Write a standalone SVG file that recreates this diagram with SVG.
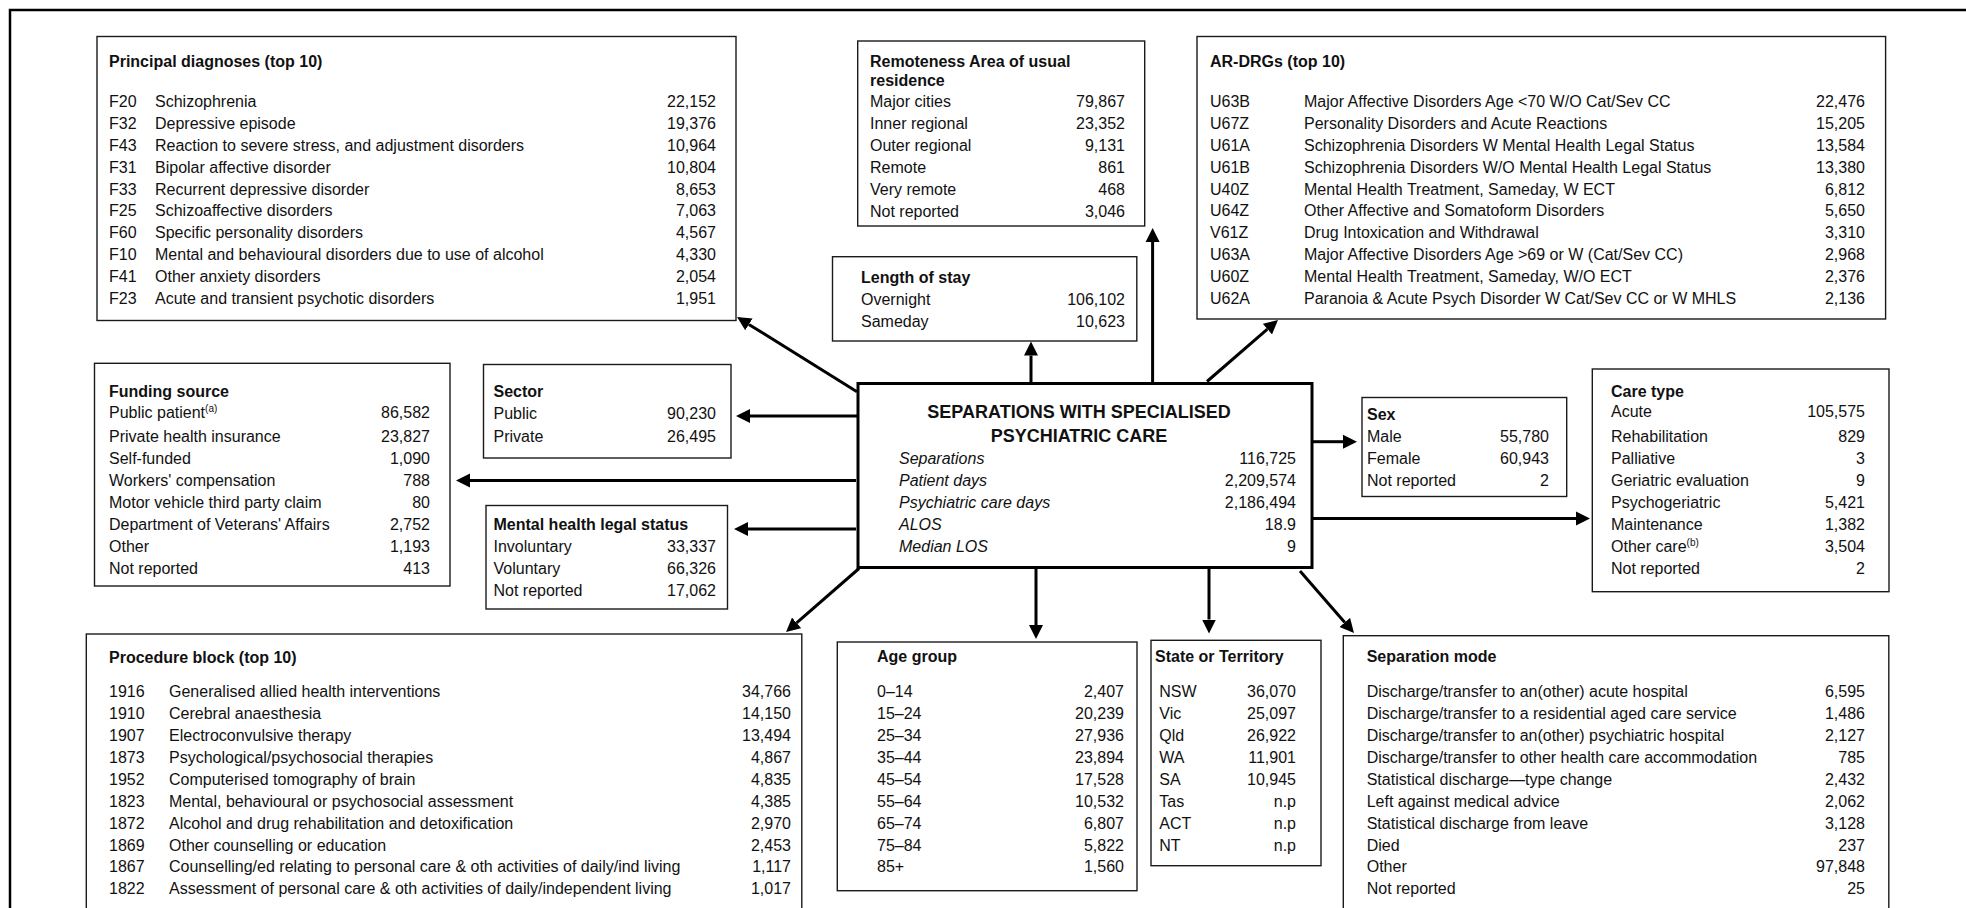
<svg xmlns="http://www.w3.org/2000/svg" width="1966" height="908" viewBox="0 0 1966 908">
<style>
.box{fill:#fff;stroke:#1a1a1a;stroke-width:1.4}
.main{fill:#fff;stroke:#000;stroke-width:3}
text{font-family:"Liberation Sans",Arial,sans-serif;font-size:16px;fill:#111}
.b{font-weight:bold}
.r{text-anchor:end}
.i{font-style:italic}
.c{text-anchor:middle}
.h{font-size:18px;font-weight:bold}
.sup{font-size:10px}
.conn line{stroke:#000;stroke-width:3;marker-end:url(#ah)}
</style>
<defs>
<marker id="ah" markerUnits="userSpaceOnUse" markerWidth="15" markerHeight="15" refX="0" refY="7" orient="auto" viewBox="0 0 15 14">
<path d="M0,0 L14,7 L0,14 z" fill="#000"/>
</marker>
</defs>
<rect width="1966" height="908" fill="#fff"/>
<path d="M10,908 V10 H1966" fill="none" stroke="#000" stroke-width="2.5"/>

<g id="connectors" class="conn">
<line x1="857" y1="391.7" x2="748.9" y2="324.4"/>
<line x1="857" y1="416" x2="750" y2="416"/>
<line x1="856" y1="480.5" x2="470" y2="480.5"/>
<line x1="856" y1="529" x2="748" y2="529"/>
<line x1="1031" y1="383" x2="1031" y2="355.5"/>
<line x1="1152.6" y1="383" x2="1152.6" y2="242"/>
<line x1="1207" y1="381.5" x2="1267.4" y2="329.1"/>
<line x1="1312" y1="441.7" x2="1343" y2="441.7"/>
<line x1="1312" y1="518.5" x2="1576" y2="518.5"/>
<line x1="859" y1="568.5" x2="796.6" y2="622.9"/>
<line x1="1036" y1="568" x2="1036" y2="625"/>
<line x1="1209" y1="568" x2="1209" y2="619.5"/>
<line x1="1300" y1="571" x2="1344.8" y2="622.4"/>
</g>

<g id="principal-diagnoses">
<rect class="box" x="97" y="36.5" width="639" height="284"/>
<text class="b" x="109" y="67">Principal diagnoses (top 10)</text>
<text x="109" y="107.2">F20</text><text x="155" y="107.2">Schizophrenia</text><text class="r" x="716" y="107.2">22,152</text>
<text x="109" y="129">F32</text><text x="155" y="129">Depressive episode</text><text class="r" x="716" y="129">19,376</text>
<text x="109" y="150.9">F43</text><text x="155" y="150.9">Reaction to severe stress, and adjustment disorders</text><text class="r" x="716" y="150.9">10,964</text>
<text x="109" y="172.8">F31</text><text x="155" y="172.8">Bipolar affective disorder</text><text class="r" x="716" y="172.8">10,804</text>
<text x="109" y="194.6">F33</text><text x="155" y="194.6">Recurrent depressive disorder</text><text class="r" x="716" y="194.6">8,653</text>
<text x="109" y="216.4">F25</text><text x="155" y="216.4">Schizoaffective disorders</text><text class="r" x="716" y="216.4">7,063</text>
<text x="109" y="238.3">F60</text><text x="155" y="238.3">Specific personality disorders</text><text class="r" x="716" y="238.3">4,567</text>
<text x="109" y="260.2">F10</text><text x="155" y="260.2">Mental and behavioural disorders due to use of alcohol</text><text class="r" x="716" y="260.2">4,330</text>
<text x="109" y="282">F41</text><text x="155" y="282">Other anxiety disorders</text><text class="r" x="716" y="282">2,054</text>
<text x="109" y="303.8">F23</text><text x="155" y="303.8">Acute and transient psychotic disorders</text><text class="r" x="716" y="303.8">1,951</text>
</g>

<g id="remoteness">
<rect class="box" x="857.7" y="41" width="287" height="185"/>
<text class="b" x="870" y="66.5">Remoteness Area of usual</text>
<text class="b" x="870" y="85.5">residence</text>
<text x="870" y="107">Major cities</text><text class="r" x="1125" y="107">79,867</text>
<text x="870" y="129">Inner regional</text><text class="r" x="1125" y="129">23,352</text>
<text x="870" y="151">Outer regional</text><text class="r" x="1125" y="151">9,131</text>
<text x="870" y="173">Remote</text><text class="r" x="1125" y="173">861</text>
<text x="870" y="195">Very remote</text><text class="r" x="1125" y="195">468</text>
<text x="870" y="217">Not reported</text><text class="r" x="1125" y="217">3,046</text>
</g>

<g id="length-of-stay">
<rect class="box" x="832.5" y="256.7" width="304.3" height="84.3"/>
<text class="b" x="861" y="283">Length of stay</text>
<text x="861" y="304.5">Overnight</text><text class="r" x="1125" y="304.5">106,102</text>
<text x="861" y="326.5">Sameday</text><text class="r" x="1125" y="326.5">10,623</text>
</g>

<g id="ar-drgs">
<rect class="box" x="1197" y="36.5" width="688.6" height="282.5"/>
<text class="b" x="1210" y="67">AR-DRGs (top 10)</text>
<text x="1210" y="107.2">U63B</text><text x="1304" y="107.2">Major Affective Disorders Age &lt;70 W/O Cat/Sev CC</text><text class="r" x="1865" y="107.2">22,476</text>
<text x="1210" y="129">U67Z</text><text x="1304" y="129">Personality Disorders and Acute Reactions</text><text class="r" x="1865" y="129">15,205</text>
<text x="1210" y="150.9">U61A</text><text x="1304" y="150.9">Schizophrenia Disorders W Mental Health Legal Status</text><text class="r" x="1865" y="150.9">13,584</text>
<text x="1210" y="172.8">U61B</text><text x="1304" y="172.8">Schizophrenia Disorders W/O Mental Health Legal Status</text><text class="r" x="1865" y="172.8">13,380</text>
<text x="1210" y="194.6">U40Z</text><text x="1304" y="194.6">Mental Health Treatment, Sameday, W ECT</text><text class="r" x="1865" y="194.6">6,812</text>
<text x="1210" y="216.4">U64Z</text><text x="1304" y="216.4">Other Affective and Somatoform Disorders</text><text class="r" x="1865" y="216.4">5,650</text>
<text x="1210" y="238.3">V61Z</text><text x="1304" y="238.3">Drug Intoxication and Withdrawal</text><text class="r" x="1865" y="238.3">3,310</text>
<text x="1210" y="260.2">U63A</text><text x="1304" y="260.2">Major Affective Disorders Age &gt;69 or W (Cat/Sev CC)</text><text class="r" x="1865" y="260.2">2,968</text>
<text x="1210" y="282">U60Z</text><text x="1304" y="282">Mental Health Treatment, Sameday, W/O ECT</text><text class="r" x="1865" y="282">2,376</text>
<text x="1210" y="303.8">U62A</text><text x="1304" y="303.8">Paranoia &amp; Acute Psych Disorder W Cat/Sev CC or W MHLS</text><text class="r" x="1865" y="303.8">2,136</text>
</g>

<g id="funding-source">
<rect class="box" x="94.5" y="363.3" width="355.5" height="222.7"/>
<text class="b" x="109" y="396.5">Funding source</text>
<text x="109" y="418">Public patient<tspan class="sup" dy="-6">(a)</tspan></text><text class="r" x="430" y="418">86,582</text>
<text x="109" y="442">Private health insurance</text><text class="r" x="430" y="442">23,827</text>
<text x="109" y="464">Self-funded</text><text class="r" x="430" y="464">1,090</text>
<text x="109" y="486">Workers' compensation</text><text class="r" x="430" y="486">788</text>
<text x="109" y="508">Motor vehicle third party claim</text><text class="r" x="430" y="508">80</text>
<text x="109" y="530">Department of Veterans' Affairs</text><text class="r" x="430" y="530">2,752</text>
<text x="109" y="552">Other</text><text class="r" x="430" y="552">1,193</text>
<text x="109" y="574">Not reported</text><text class="r" x="430" y="574">413</text>
</g>

<g id="sector">
<rect class="box" x="483.5" y="364.5" width="247.5" height="93.5"/>
<text class="b" x="493.5" y="396.5">Sector</text>
<text x="493.5" y="419">Public</text><text class="r" x="716" y="419">90,230</text>
<text x="493.5" y="442">Private</text><text class="r" x="716" y="442">26,495</text>
</g>

<g id="mental-health-legal-status">
<rect class="box" x="486" y="505.5" width="241.5" height="103.5"/>
<text class="b" x="493.5" y="530">Mental health legal status</text>
<text x="493.5" y="552">Involuntary</text><text class="r" x="716" y="552">33,337</text>
<text x="493.5" y="574">Voluntary</text><text class="r" x="716" y="574">66,326</text>
<text x="493.5" y="596">Not reported</text><text class="r" x="716" y="596">17,062</text>
</g>

<g id="separations">
<rect class="main" x="858" y="383.5" width="454" height="184"/>
<text class="h c" x="1079" y="418">SEPARATIONS WITH SPECIALISED</text>
<text class="h c" x="1079" y="442">PSYCHIATRIC CARE</text>
<text class="i" x="899" y="464">Separations</text><text class="r" x="1296" y="464">116,725</text>
<text class="i" x="899" y="486">Patient days</text><text class="r" x="1296" y="486">2,209,574</text>
<text class="i" x="899" y="508">Psychiatric care days</text><text class="r" x="1296" y="508">2,186,494</text>
<text class="i" x="899" y="530">ALOS</text><text class="r" x="1296" y="530">18.9</text>
<text class="i" x="899" y="552">Median LOS</text><text class="r" x="1296" y="552">9</text>
</g>

<g id="sex">
<rect class="box" x="1362" y="397.5" width="204.7" height="99"/>
<text class="b" x="1367" y="419.5">Sex</text>
<text x="1367" y="442">Male</text><text class="r" x="1549" y="442">55,780</text>
<text x="1367" y="464">Female</text><text class="r" x="1549" y="464">60,943</text>
<text x="1367" y="486">Not reported</text><text class="r" x="1549" y="486">2</text>
</g>

<g id="care-type">
<rect class="box" x="1592.3" y="369" width="296.7" height="222.7"/>
<text class="b" x="1611" y="396.5">Care type</text>
<text x="1611" y="417">Acute</text><text class="r" x="1865" y="417">105,575</text>
<text x="1611" y="442">Rehabilitation</text><text class="r" x="1865" y="442">829</text>
<text x="1611" y="464">Palliative</text><text class="r" x="1865" y="464">3</text>
<text x="1611" y="486">Geriatric evaluation</text><text class="r" x="1865" y="486">9</text>
<text x="1611" y="508">Psychogeriatric</text><text class="r" x="1865" y="508">5,421</text>
<text x="1611" y="530">Maintenance</text><text class="r" x="1865" y="530">1,382</text>
<text x="1611" y="552">Other care<tspan class="sup" dy="-6">(b)</tspan></text><text class="r" x="1865" y="552">3,504</text>
<text x="1611" y="574">Not reported</text><text class="r" x="1865" y="574">2</text>
</g>

<g id="procedure-block">
<rect class="box" x="86.3" y="634" width="715.5" height="300"/>
<text class="b" x="109" y="663">Procedure block (top 10)</text>
<text x="109" y="697.2">1916</text><text x="169" y="697.2">Generalised allied health interventions</text><text class="r" x="791" y="697.2">34,766</text>
<text x="109" y="719.1">1910</text><text x="169" y="719.1">Cerebral anaesthesia</text><text class="r" x="791" y="719.1">14,150</text>
<text x="109" y="741">1907</text><text x="169" y="741">Electroconvulsive therapy</text><text class="r" x="791" y="741">13,494</text>
<text x="109" y="762.9">1873</text><text x="169" y="762.9">Psychological/psychosocial therapies</text><text class="r" x="791" y="762.9">4,867</text>
<text x="109" y="784.8">1952</text><text x="169" y="784.8">Computerised tomography of brain</text><text class="r" x="791" y="784.8">4,835</text>
<text x="109" y="806.7">1823</text><text x="169" y="806.7">Mental, behavioural or psychosocial assessment</text><text class="r" x="791" y="806.7">4,385</text>
<text x="109" y="828.6">1872</text><text x="169" y="828.6">Alcohol and drug rehabilitation and detoxification</text><text class="r" x="791" y="828.6">2,970</text>
<text x="109" y="850.5">1869</text><text x="169" y="850.5">Other counselling or education</text><text class="r" x="791" y="850.5">2,453</text>
<text x="109" y="872.4">1867</text><text x="169" y="872.4">Counselling/ed relating to personal care &amp; oth activities of daily/ind living</text><text class="r" x="791" y="872.4">1,117</text>
<text x="109" y="894.3">1822</text><text x="169" y="894.3">Assessment of personal care &amp; oth activities of daily/independent living</text><text class="r" x="791" y="894.3">1,017</text>
</g>

<g id="age-group">
<rect class="box" x="837.3" y="642" width="299.7" height="248.7"/>
<text class="b" x="877" y="662">Age group</text>
<text x="877" y="697.2">0–14</text><text class="r" x="1124" y="697.2">2,407</text>
<text x="877" y="719.1">15–24</text><text class="r" x="1124" y="719.1">20,239</text>
<text x="877" y="741">25–34</text><text class="r" x="1124" y="741">27,936</text>
<text x="877" y="762.9">35–44</text><text class="r" x="1124" y="762.9">23,894</text>
<text x="877" y="784.8">45–54</text><text class="r" x="1124" y="784.8">17,528</text>
<text x="877" y="806.7">55–64</text><text class="r" x="1124" y="806.7">10,532</text>
<text x="877" y="828.6">65–74</text><text class="r" x="1124" y="828.6">6,807</text>
<text x="877" y="850.5">75–84</text><text class="r" x="1124" y="850.5">5,822</text>
<text x="877" y="872.4">85+</text><text class="r" x="1124" y="872.4">1,560</text>
</g>

<g id="state-or-territory">
<rect class="box" x="1151" y="640.3" width="170" height="225.4"/>
<text class="b" x="1155" y="662">State or Territory</text>
<text x="1159.3" y="697.2">NSW</text><text class="r" x="1296" y="697.2">36,070</text>
<text x="1159.3" y="719.1">Vic</text><text class="r" x="1296" y="719.1">25,097</text>
<text x="1159.3" y="741">Qld</text><text class="r" x="1296" y="741">26,922</text>
<text x="1159.3" y="762.9">WA</text><text class="r" x="1296" y="762.9">11,901</text>
<text x="1159.3" y="784.8">SA</text><text class="r" x="1296" y="784.8">10,945</text>
<text x="1159.3" y="806.7">Tas</text><text class="r" x="1296" y="806.7">n.p</text>
<text x="1159.3" y="828.6">ACT</text><text class="r" x="1296" y="828.6">n.p</text>
<text x="1159.3" y="850.5">NT</text><text class="r" x="1296" y="850.5">n.p</text>
</g>

<g id="separation-mode">
<rect class="box" x="1343.3" y="635.7" width="545.5" height="300"/>
<text class="b" x="1366.7" y="662">Separation mode</text>
<text x="1366.7" y="697.2">Discharge/transfer to an(other) acute hospital</text><text class="r" x="1865" y="697.2">6,595</text>
<text x="1366.7" y="719.1">Discharge/transfer to a residential aged care service</text><text class="r" x="1865" y="719.1">1,486</text>
<text x="1366.7" y="741">Discharge/transfer to an(other) psychiatric hospital</text><text class="r" x="1865" y="741">2,127</text>
<text x="1366.7" y="762.9">Discharge/transfer to other health care accommodation</text><text class="r" x="1865" y="762.9">785</text>
<text x="1366.7" y="784.8">Statistical discharge—type change</text><text class="r" x="1865" y="784.8">2,432</text>
<text x="1366.7" y="806.7">Left against medical advice</text><text class="r" x="1865" y="806.7">2,062</text>
<text x="1366.7" y="828.6">Statistical discharge from leave</text><text class="r" x="1865" y="828.6">3,128</text>
<text x="1366.7" y="850.5">Died</text><text class="r" x="1865" y="850.5">237</text>
<text x="1366.7" y="872.4">Other</text><text class="r" x="1865" y="872.4">97,848</text>
<text x="1366.7" y="894.3">Not reported</text><text class="r" x="1865" y="894.3">25</text>
</g>
</svg>
